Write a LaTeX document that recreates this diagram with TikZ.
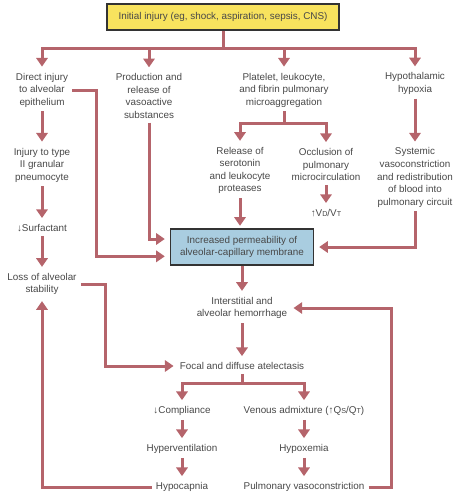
\documentclass[tikz,border=0pt]{standalone}
\usepackage{fontspec}
\setmainfont{Liberation Sans}
\usetikzlibrary{arrows.meta, positioning}
\definecolor{flowred}{HTML}{B5646B}
\definecolor{boxyellow}{HTML}{F8E35E}
\definecolor{boxblue}{HTML}{A9CDE0}
\definecolor{textgray}{HTML}{484848}
\newcommand{\lowcap}[1]{{\fontsize{5.4}{6}\selectfont #1}}

\begin{document}
\begin{tikzpicture}[
    x=0.75pt, y=-0.75pt, % work in pixels, y downward
    >={Triangle[width=8.5pt, length=6.5pt]}, % Set default arrow tip style
    line/.style={flowred, line width=2.25pt}, % Style for plain connectors
    flow/.style={line, ->, shorten >=1.5pt}, % Style for arrows
    txt/.style={align=center, text=textgray, inner sep=3pt,
        font=\fontsize{7.4}{9.4}\selectfont}, % Style for labels
    box/.style={txt, draw=black!80, line width=0.8pt} % Style for framed boxes
]
    \useasboundingbox (0,0) rectangle (459,500);

    % Boxes
    \node[box, fill=boxyellow, minimum width=174pt, minimum height=19.5pt] (init) at (223,17)
        {Initial injury (eg, shock, aspiration, sepsis, CNS)};
    \node[box, fill=boxblue, minimum width=107pt, minimum height=27pt] (perm) at (242,247)
        {Increased permeability of\\alveolar-capillary membrane};

    % First row
    \node[txt] (direct) at (42,90) {Direct injury\\to alveolar\\epithelium};
    \node[txt] (prod) at (149,96) {Production and\\release of\\vasoactive\\substances};
    \node[txt] (plat) at (284,90) {Platelet, leukocyte,\\and fibrin pulmonary\\microaggregation};
    \node[txt] (hypo) at (415,83.5) {Hypothalamic\\hypoxia};

    % Left column
    \node[txt] (typeII) at (42,165) {Injury to type\\II granular\\pneumocyte};
    \node[txt] (surf) at (42,228) {↓Surfactant};
    \node[txt] (loss) at (42,284) {Loss of alveolar\\stability};

    % Middle and right
    \node[txt] (release) at (240,170.5) {Release of\\serotonin\\and leukocyte\\proteases};
    \node[txt] (occl) at (326,164.5) {Occlusion of\\pulmonary\\microcirculation};
    \node[txt] (vdvt) at (326,213) {↑V\lowcap{D}/V\lowcap{T}};
    \node[txt] (syst) at (415,177.5) {Systemic\\vasoconstriction\\and redistribution\\of blood into\\pulmonary circuit};

    % Lower part
    \node[txt] (inter) at (242,308) {Interstitial and\\alveolar hemorrhage};
    \node[txt] (focal) at (242,366) {Focal and diffuse atelectasis};
    \node[txt] (compl) at (182,411) {↓Compliance};
    \node[txt] (venous) at (304,411) {Venous admixture (↑Q\lowcap{S}/Q\lowcap{T})};
    \node[txt] (hypervent) at (182,449) {Hyperventilation};
    \node[txt] (hypox) at (304,449) {Hypoxemia};
    \node[txt] (hypocap) at (182,487) {Hypocapnia};
    \node[txt] (pvc) at (304,487) {Pulmonary vasoconstriction};

    % Split points
    \coordinate (split1) at (223,48);
    \coordinate (split2) at (284,123);
    \coordinate (split3) at (242,383);

    % Fan out from the initial injury
    \draw[line] (init.south) -- (split1);
    \draw[flow] (split1) -| (direct.north);
    \draw[flow] (split1) -| (prod.north);
    \draw[flow] (split1) -| (plat.north);
    \draw[flow] (split1) -| (hypo.north);

    % Left chain
    \draw[flow] (direct.south) -- (typeII.north);
    \draw[flow] (typeII.south) -- (surf.north);
    \draw[flow] (surf.south) -- (loss.north);

    % Into the permeability box
    \draw[flow, shorten >=4pt] (direct.east) -- ++(24,0) |- ([yshift=-7pt]perm.west);
    \draw[flow, shorten >=4pt] (prod.south) |- ([yshift=6pt]perm.west);
    \draw[line] (plat.south) -- (split2);
    \draw[flow] (split2) -| (release.north);
    \draw[flow] (split2) -| (occl.north);
    \draw[flow] (occl.south) -- (vdvt.north);
    \draw[flow, shorten >=2pt] (release.south) -- (release.south |- perm.north);
    \draw[flow] (hypo.south) -- (syst.north);
    \draw[flow, shorten >=4pt] (syst.south) |- (perm.east);

    % Below the permeability box
    \draw[flow] (perm.south) -- (inter.north);
    \draw[flow] (inter.south) -- (focal.north);
    \draw[flow] (loss.east) -- ++(25,0) |- (focal.west);
    \draw[line] (focal.south) -- (split3);
    \draw[flow] (split3) -| (compl.north);
    \draw[flow] (split3) -| (venous.north);
    \draw[flow] (compl.south) -- (hypervent.north);
    \draw[flow] (hypervent.south) -- (hypocap.north);
    \draw[flow] (venous.south) -- (hypox.north);
    \draw[flow] (hypox.south) -- (pvc.north);

    % Feedback loops
    \draw[flow] (hypocap.west) -| (loss.south);
    \draw[flow] (pvc.east) -- ++(23,0) |- (inter.east);

\end{tikzpicture}
\end{document}
